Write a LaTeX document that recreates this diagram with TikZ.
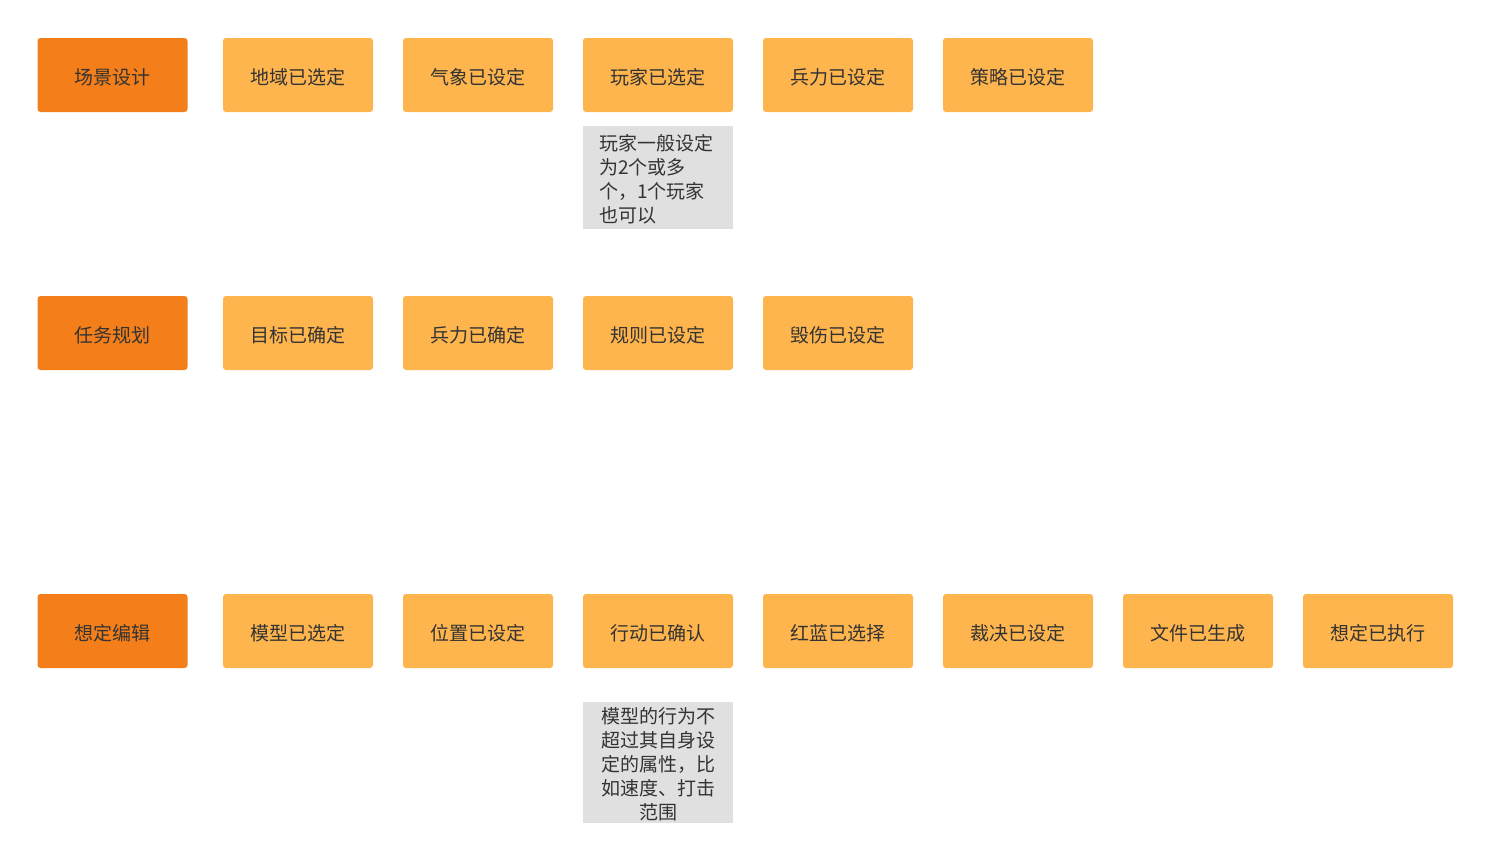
\documentclass[tikz,border=0pt]{standalone}
\usepackage{fontspec}
\setmainfont{Noto Sans CJK SC}
\definecolor{darkor}{HTML}{F47F1A}
\definecolor{lightor}{HTML}{FFB54D}
\definecolor{notegray}{HTML}{E0E0E0}
\definecolor{txt}{HTML}{333333}
\begin{document}
\begin{tikzpicture}[x=1pt,y=-1pt,
  base/.style={minimum width=150pt,minimum height=74pt,rounded corners=3pt,text=txt,font=\fontsize{19}{22}\selectfont,inner sep=0pt,text height=19pt,text depth=1pt},
  phase/.style={base,fill=darkor},
  state/.style={base,fill=lightor},
  notebox/.style={fill=notegray,minimum width=150pt,inner sep=0pt},
  notetext/.style={text=txt,font=\fontsize{19}{24}\selectfont,inner sep=0pt}]
\useasboundingbox (0,0) rectangle (1490,860);
% row 1
\node[phase] (p1) at (112.5,75) {场景设计};
\node[state] (a1) at (298,75) {地域已选定};
\node[state] (a2) at (478,75) {气象已设定};
\node[state] (a3) at (658,75) {玩家已选定};
\node[state] (a4) at (838,75) {兵力已设定};
\node[state] (a5) at (1018,75) {策略已设定};
\node[notebox,minimum height=103pt,anchor=north] (n1) at (658,126) {};
\node[notetext,align=left,anchor=north west] (n1t) at (599,134) {玩家一般设定\\为2个或多\\个，1个玩家\\也可以};
% row 2
\node[phase] (p2) at (112.5,333) {任务规划};
\node[state] (b1) at (298,333) {目标已确定};
\node[state] (b2) at (478,333) {兵力已确定};
\node[state] (b3) at (658,333) {规则已设定};
\node[state] (b4) at (838,333) {毁伤已设定};
% row 3
\node[phase] (p3) at (112.5,631) {想定编辑};
\node[state] (c1) at (298,631) {模型已选定};
\node[state] (c2) at (478,631) {位置已设定};
\node[state] (c3) at (658,631) {行动已确认};
\node[state] (c4) at (838,631) {红蓝已选择};
\node[state] (c5) at (1018,631) {裁决已设定};
\node[state] (c6) at (1198,631) {文件已生成};
\node[state] (c7) at (1378,631) {想定已执行};
\node[notebox,minimum height=121pt,anchor=north] (n2) at (658,702) {};
\node[notetext,align=center,anchor=north] (n2t) at (658,707) {模型的行为不\\超过其自身设\\定的属性，比\\如速度、打击\\范围};
\end{tikzpicture}
\end{document}
